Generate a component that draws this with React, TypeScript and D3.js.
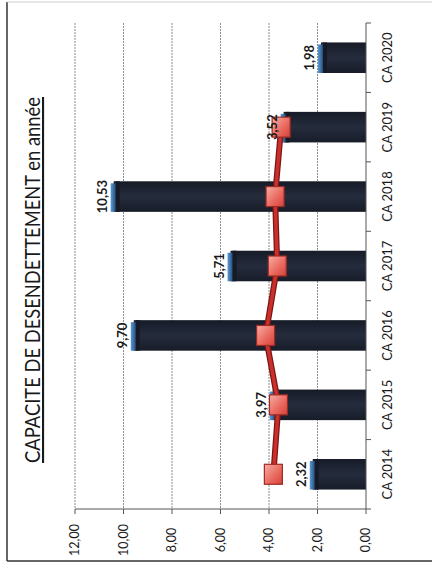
import React from "react";
import * as d3 from "d3";

const categories = ["CA 2014", "CA 2015", "CA 2016", "CA 2017", "CA 2018", "CA 2019", "CA 2020"];
const barValues = [2.32, 3.97, 9.7, 5.71, 10.53, 3.52, 1.98];
const barLabels = ["2,32", "3,97", "9,70", "5,71", "10,53", "3,52", "1,98"];
const lineValues = [3.82, 3.61, 4.14, 3.66, 3.75, 3.5];
const valueTicks = [0, 2, 4, 6, 8, 10, 12];
const valueTickLabels = ["0,00", "2,00", "4,00", "6,00", "8,00", "10,00", "12,00"];
const title = "CAPACITE DE DESENDETTEMENT en année";

const W = 432;
const H = 564;

export default function App() {
  const x = d3.scaleLinear().domain([0, 12]).range([366, 75]);
  const y = d3.scaleBand<string>().domain(categories).range([509, 23]).padding(0);
  const bw = y.bandwidth();
  const barH = bw * 0.44;
  const cy = (c: string) => (y(c) as number) + bw / 2;
  const boundaries = d3.range(categories.length + 1).map((i) => 23 + i * bw);

  const linePts: [number, number][] = lineValues.map((v, i) => [x(v), cy(categories[i])]);
  const lineGen = d3.line();
  const font = "Lato, 'Open Sans', sans-serif";
  const txt = "#1a1a1a";

  return (
    <svg width={W} height={H} style={{ position: "absolute", left: 0, top: 0, background: "#fff" }}
      xmlns="http://www.w3.org/2000/svg">
      <defs>
        <linearGradient id="tip" x1="0" x2="1" y1="0" y2="0">
          <stop offset="0" stopColor="#5a9bd8" />
          <stop offset="1" stopColor="#1f3f66" />
        </linearGradient>
        <linearGradient id="barg" x1="0" x2="0" y1="0" y2="1">
          <stop offset="0" stopColor="#161b27" />
          <stop offset="0.5" stopColor="#252c3d" />
          <stop offset="1" stopColor="#171c28" />
        </linearGradient>
        <linearGradient id="mk" x1="0" x2="1" y1="0" y2="1">
          <stop offset="0" stopColor="#f7aea5" />
          <stop offset="0.6" stopColor="#e9665c" />
          <stop offset="1" stopColor="#d2433b" />
        </linearGradient>
      </defs>
      <rect x={0} y={0} width={W} height={H} fill="#fff" />
      {/* frame */}
      <line x1={7} y1={2} x2={7} y2={561} stroke="#333" strokeWidth={1.5} />
      <line x1={7} y1={561} x2={W} y2={561} stroke="#333" strokeWidth={1.5} />
      <line x1={7} y1={2} x2={W} y2={2} stroke="#ccc" strokeWidth={1} />

      {/* title */}
      <g transform={`translate(40,280) rotate(-90)`}>
        <text x={0} y={0} textAnchor="middle" fontFamily={font} fontSize={21} fill={txt}
          textLength={366} lengthAdjust="spacingAndGlyphs" textDecoration="underline">
          {title}
        </text>
      </g>

      {/* gridlines */}
      {valueTicks.filter((t) => t > 0).map((t) => (
        <line key={"g" + t} x1={x(t)} x2={x(t)} y1={23} y2={509} stroke="#8c8c8c" strokeWidth={1}
          strokeDasharray="2,1" />
      ))}

      {/* bars */}
      {categories.map((c, i) => {
        const v = barValues[i];
        const yc = cy(c);
        const x0 = x(v);
        const x1 = x(0);
        return (
          <g key={"b" + c}>
            <rect x={x0 + 3} y={yc - barH / 2} width={x1 - x0 - 3} height={barH} fill="url(#barg)" />
            <rect x={x0} y={yc - barH / 2 + 2} width={6} height={barH - 2} fill="url(#tip)" />
            <rect x={x0 + 5} y={yc - barH / 2} width={4} height={barH} fill="#151a25" />
          </g>
        );
      })}

      {/* line series */}
      <path d={lineGen(linePts) || ""} fill="none" stroke="#7d1515" strokeWidth={6} strokeLinejoin="round" />
      <path d={lineGen(linePts) || ""} fill="none" stroke="#c9302c" strokeWidth={3.5} strokeLinejoin="round" />
      {linePts.map(([px, py], i) => (
        <rect key={"m" + i} x={px - 9} y={py - 10} width={18} height={20} fill="url(#mk)" stroke="#9e2a24"
          strokeWidth={1.2} />
      ))}

      {/* data labels */}
      {categories.map((c, i) => (
        <g key={"l" + c} transform={`translate(${x(barValues[i]) - 4},${cy(c)}) rotate(-90)`}>
          <text x={0} y={0} textAnchor="middle" fontFamily={font} fontWeight="bold" fontSize={13} fill={txt}>
            {barLabels[i]}
          </text>
        </g>
      ))}

      {/* value axis */}
      <line x1={x(12)} x2={x(0)} y1={509} y2={509} stroke="#555" strokeWidth={1} />
      {valueTicks.map((t, i) => (
        <g key={"vt" + t}>
          <line x1={x(t)} x2={x(t)} y1={509} y2={514} stroke="#555" strokeWidth={1} />
          <g transform={`translate(${x(t) + 4},540) rotate(-90)`}>
            <text x={0} y={0} textAnchor="middle" fontFamily={font} fontSize={12.5} fill={txt}>
              {valueTickLabels[i]}
            </text>
          </g>
        </g>
      ))}

      {/* category axis */}
      <line x1={366} x2={366} y1={23} y2={509} stroke="#555" strokeWidth={1} />
      {boundaries.map((b, i) => (
        <line key={"ct" + i} x1={366} x2={371} y1={b} y2={b} stroke="#555" strokeWidth={1} />
      ))}
      {categories.map((c) => (
        <g key={"cl" + c} transform={`translate(392,${cy(c)}) rotate(-90)`}>
          <text x={0} y={0} textAnchor="middle" fontFamily={font} fontSize={13} fill={txt}>
            {c}
          </text>
        </g>
      ))}
    </svg>
  );
}
